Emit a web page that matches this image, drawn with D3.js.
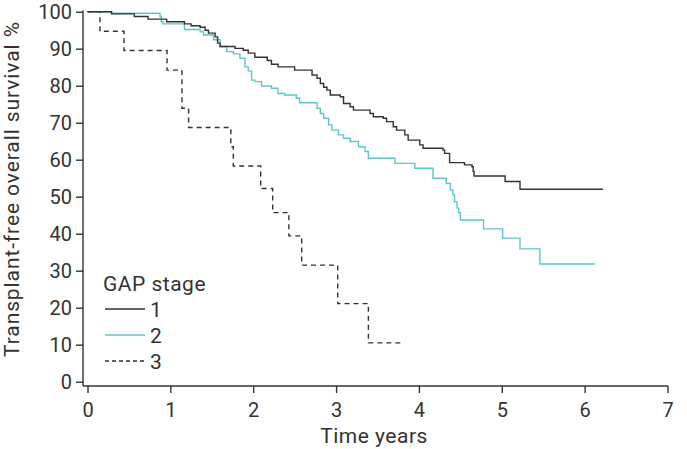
<!DOCTYPE html>
<html><head><meta charset="utf-8">
<script src="https://cdn.jsdelivr.net/npm/d3@7"></script>
<style>body{margin:0;background:#fff}svg{display:block}text{font-family:Roboto,"DejaVu Sans",sans-serif;fill:#333}</style>
</head><body><svg id="c" width="687" height="449"></svg>
<script>
// Stage 1 (black): [time, survival]
const stage1 = [[0,100],[0.29,99.4],[0.565,98.7],[0.73,98.0],[0.955,97.3],[1.17,96.7],[1.25,96.2],[1.36,95.8],[1.42,95.0],[1.46,94.2],[1.54,93.2],[1.57,91.5],[1.60,90.6],[1.78,90.1],[1.88,89.6],[1.94,88.8],[2.02,87.7],[2.17,86.8],[2.22,85.8],[2.30,85.1],[2.50,84.2],[2.71,82.9],[2.77,82.0],[2.81,80.6],[2.85,79.6],[2.89,78.8],[2.93,77.5],[3.05,77.0],[3.09,75.2],[3.17,74.3],[3.21,73.4],[3.41,72.5],[3.45,71.6],[3.57,71.2],[3.61,70.3],[3.69,68.9],[3.73,68.0],[3.83,66.7],[3.87,65.3],[4.01,64.0],[4.05,63.1],[4.29,62.6],[4.31,61.7],[4.37,59.2],[4.55,58.6],[4.64,58.1],[4.655,56.8],[4.665,55.6],[5.04,54.1],[5.22,52.0]];
const stage1End = 6.22;
// Stage 2 (teal)
const stage2 = [[0,100],[0.29,99.6],[0.875,98.7],[0.89,97.3],[0.91,96.7],[1.17,95.2],[1.36,94.6],[1.40,93.7],[1.52,92.4],[1.60,90.6],[1.68,89.2],[1.76,88.6],[1.84,87.4],[1.90,85.1],[1.94,84.0],[1.98,81.5],[2.02,81.1],[2.10,79.9],[2.22,79.3],[2.30,77.9],[2.38,77.5],[2.52,76.6],[2.56,75.4],[2.77,73.9],[2.81,72.5],[2.85,71.2],[2.91,69.4],[2.95,68.0],[3.03,66.7],[3.09,65.8],[3.17,64.9],[3.27,63.5],[3.35,62.2],[3.39,60.4],[3.71,59.0],[3.95,57.7],[4.17,55.0],[4.33,53.6],[4.38,51.8],[4.41,50.5],[4.43,48.6],[4.46,46.9],[4.48,45.7],[4.50,43.7],[4.78,41.3],[5.01,38.8],[5.22,35.9],[5.46,31.8]];
const stage2End = 6.125;
// Stage 3 (dashed)
const stage3 = [[0,100],[0.15,94.7],[0.44,89.5],[0.96,84.2],[1.14,73.9],[1.22,68.7],[1.73,63.5],[1.76,58.3],[2.09,52.2],[2.235,45.7],[2.43,39.4],[2.585,31.5],[3.02,21.1],[3.39,10.5]];
const stage3End = 3.81;
const xTicks = [0,1,2,3,4,5,6,7];
const yTicks = [0,10,20,30,40,50,60,70,80,90,100];
const legendLabels = ["1","2","3"];
const legendTitle = "GAP stage";

const svg = d3.select("#c");
const x = d3.scaleLinear().domain([0,7]).range([87.5,667.5]);
const y = d3.scaleLinear().domain([0,100]).range([381.7,11.7]);
const axisColor = "#333";

// y axis
const yAx = svg.append("g").attr("transform","translate(83,0)")
  .call(d3.axisLeft(y).tickValues(yTicks).tickFormat(d3.format("d")).tickSize(7).tickPadding(4).tickSizeOuter(0));
yAx.select(".domain").attr("d","M0,386V10.5");
// x axis
const xAx = svg.append("g").attr("transform","translate(0,386)")
  .call(d3.axisBottom(x).tickValues(xTicks).tickFormat(d3.format("d")).tickSize(7).tickPadding(10).tickSizeOuter(0));
xAx.select(".domain").attr("d","M83,0H668");
svg.selectAll(".tick text").style("font-size","20px").attr("fill","#333").style("font-family","Roboto, sans-serif");
svg.selectAll(".domain,.tick line").attr("stroke",axisColor).attr("stroke-width",1.4);

svg.append("text").attr("x",374).attr("y",443).attr("text-anchor","middle").style("font-size","21px").style("letter-spacing","0.5px").text("Time years");
svg.append("text").attr("transform","translate(19,189) rotate(-90)").attr("text-anchor","middle").style("font-size","21px").style("letter-spacing","0.9px").text("Transplant-free overall survival %");

function path(data,end){ return data.concat([[end,data[data.length-1][1]]]); }
const line = d3.line().x(d=>x(d[0])).y(d=>y(d[1])).curve(d3.curveStepAfter);
const series = [
  {d:path(stage3,stage3End),c:"#333",dash:"5,4"},
  {d:path(stage2,stage2End),c:"#5ec6c8",dash:null},
  {d:path(stage1,stage1End),c:"#333",dash:null}
];
series.forEach(s=>{
  svg.append("path").attr("d",line(s.d)).attr("fill","none").attr("stroke",s.c).attr("stroke-width",1.4).attr("stroke-dasharray",s.dash);
});

// legend
svg.append("text").attr("x",103).attr("y",290.5).style("font-size","21px").style("letter-spacing","0.5px").text(legendTitle);
const lc = [{c:"#333",dash:null},{c:"#5ec6c8",dash:null},{c:"#333",dash:"4,3"}];
legendLabels.forEach((l,i)=>{
  const yy = 309 + i*26;
  svg.append("line").attr("x1",105).attr("x2",145).attr("y1",yy).attr("y2",yy).attr("stroke",lc[i].c).attr("stroke-width",1.4).attr("stroke-dasharray",lc[i].dash);
  svg.append("text").attr("x",150).attr("y",yy+8).style("font-size","21px").text(l);
});
</script></body></html>
